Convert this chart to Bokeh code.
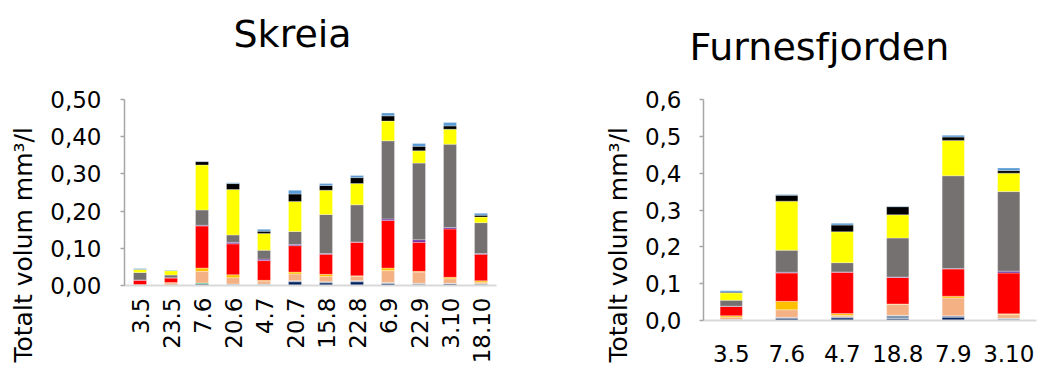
from math import pi
from bokeh.plotting import figure
from bokeh.layouts import row
from bokeh.models import (ColumnDataSource, FactorRange, Range1d, FixedTicker,
                          CustomJSTickFormatter, Title)
from bokeh.embed import file_html
from bokeh.resources import INLINE

FONT = "DejaVu Sans"

# stack order, bottom to top
series = ["s01", "s02", "s03", "s04", "s05", "s06", "s07", "s08", "s09", "s10", "s11"]
colors = ["#002060", "#8497b0", "#00b050", "#f4b183", "#ffc000", "#ff0000",
          "#7030a0", "#767171", "#ffff00", "#000000", "#5b9bd5"]

ylabel = "Totalt volum mm³/l"

# ---- Skreia ----
skreia_title = "Skreia"
skreia_dates = ["3.5", "23.5", "7.6", "20.6", "4.7", "20.7", "15.8", "22.8", "6.9", "22.9", "3.10", "18.10"]
skreia_s01 = [0.000, 0.000, 0.004, 0.001, 0.001, 0.010, 0.007, 0.010, 0.005, 0.001, 0.004, 0.001]
skreia_s02 = [0.001, 0.001, 0.001, 0.003, 0.003, 0.003, 0.003, 0.003, 0.003, 0.005, 0.002, 0.004]
skreia_s03 = [0.000, 0.000, 0.002, 0.000, 0.000, 0.000, 0.000, 0.000, 0.000, 0.000, 0.000, 0.000]
skreia_s04 = [0.001, 0.006, 0.031, 0.017, 0.008, 0.018, 0.014, 0.012, 0.032, 0.030, 0.012, 0.004]
skreia_s05 = [0.000, 0.001, 0.009, 0.008, 0.002, 0.005, 0.006, 0.001, 0.007, 0.002, 0.004, 0.004]
skreia_s06 = [0.012, 0.012, 0.113, 0.083, 0.053, 0.071, 0.054, 0.090, 0.128, 0.078, 0.130, 0.071]
skreia_s07 = [0.001, 0.001, 0.002, 0.004, 0.004, 0.003, 0.002, 0.001, 0.004, 0.007, 0.004, 0.002]
skreia_s08 = [0.020, 0.007, 0.041, 0.020, 0.024, 0.035, 0.105, 0.100, 0.210, 0.206, 0.224, 0.083]
skreia_s09 = [0.008, 0.012, 0.121, 0.122, 0.045, 0.081, 0.065, 0.057, 0.053, 0.033, 0.040, 0.015]
skreia_s10 = [0.001, 0.000, 0.009, 0.016, 0.006, 0.020, 0.013, 0.016, 0.014, 0.012, 0.009, 0.005]
skreia_s11 = [0.002, 0.002, 0.001, 0.002, 0.005, 0.010, 0.005, 0.006, 0.008, 0.008, 0.009, 0.005]
skreia_ticks = [0.0, 0.1, 0.2, 0.3, 0.4, 0.5]

# ---- Furnesfjorden ----
furnes_title = "Furnesfjorden"
furnes_dates = ["3.5", "7.6", "4.7", "18.8", "7.9", "3.10"]
furnes_s01 = [0.000, 0.006, 0.007, 0.005, 0.009, 0.001]
furnes_s02 = [0.003, 0.003, 0.003, 0.009, 0.004, 0.005]
furnes_s03 = [0.000, 0.000, 0.000, 0.000, 0.000, 0.000]
furnes_s04 = [0.006, 0.020, 0.004, 0.030, 0.048, 0.010]
furnes_s05 = [0.004, 0.023, 0.005, 0.001, 0.005, 0.002]
furnes_s06 = [0.025, 0.077, 0.112, 0.072, 0.074, 0.111]
furnes_s07 = [0.001, 0.002, 0.001, 0.001, 0.001, 0.005]
furnes_s08 = [0.016, 0.060, 0.025, 0.106, 0.252, 0.216]
furnes_s09 = [0.020, 0.133, 0.084, 0.063, 0.096, 0.050]
furnes_s10 = [0.002, 0.016, 0.018, 0.022, 0.009, 0.007]
furnes_s11 = [0.004, 0.002, 0.005, 0.001, 0.005, 0.007]
furnes_ticks = [0.0, 0.1, 0.2, 0.3, 0.4, 0.5, 0.6]


def make_chart(title, dates, cols, ticks, digits, *, width, height, mb_left, mb_right,
               mb_top, mb_bottom, bar_width, title_offset, title_gap, ytick_standoff,
               xlabel_vertical, xlabel_standoff, ylab_offset, ylab_standoff, ylab_valign):
    data = {"date": dates}
    for name, vals in zip(series, cols):
        data[name] = vals
    src = ColumnDataSource(data)
    p = figure(x_range=FactorRange(*dates, range_padding=0),
               y_range=Range1d(ticks[0], ticks[-1]),
               width=width, height=height, title=None,
               output_backend="svg", toolbar_location=None, frame_align=False,
               min_border_left=mb_left, min_border_right=mb_right,
               min_border_top=mb_top, min_border_bottom=mb_bottom)
    p.vbar_stack(series, x="date", width=bar_width, color=colors, source=src,
                 line_color="white", line_width=0.5, line_alpha=0.6)
    p.outline_line_color = None
    p.grid.visible = False
    p.background_fill_color = "white"
    p.border_fill_color = "white"

    # spacer between frame and title, then the title itself
    p.add_layout(Title(text=" ", text_font_size="1px", standoff=title_gap), "above")
    p.add_layout(Title(text=title, text_font=FONT, text_font_size="38px",
                       text_font_style="normal", text_color="black",
                       align="left", offset=title_offset, standoff=0), "above")

    # y axis title, placed along the left side
    p.add_layout(Title(text=ylabel, text_font=FONT, text_font_size="25px",
                       text_font_style="normal", text_color="black",
                       align="left", offset=ylab_offset, standoff=ylab_standoff,
                       vertical_align=ylab_valign), "left")

    ya = p.yaxis[0]
    ya.ticker = FixedTicker(ticks=ticks, minor_ticks=[])
    ya.formatter = CustomJSTickFormatter(
        code="return tick.toFixed(%d).replace('.', ',');" % digits)
    ya.axis_line_color = "#a6a6a6"
    ya.axis_line_width = 1.5
    ya.major_tick_line_color = "#a6a6a6"
    ya.major_tick_line_width = 1.5
    ya.major_tick_out = 4
    ya.major_tick_in = 0
    ya.minor_tick_out = 0
    ya.minor_tick_in = 0
    ya.major_label_text_font = FONT
    ya.major_label_text_font_size = "23px"
    ya.major_label_text_color = "black"
    ya.major_label_standoff = ytick_standoff

    xa = p.xaxis[0]
    xa.axis_line_color = "#d9d9d9"
    xa.axis_line_width = 2
    xa.major_tick_out = 0
    xa.major_tick_in = 0
    xa.minor_tick_out = 0
    xa.major_label_text_font = FONT
    xa.major_label_text_font_size = "23px"
    xa.major_label_text_color = "black"
    xa.major_label_standoff = xlabel_standoff
    if xlabel_vertical:
        xa.major_label_orientation = pi / 2
    else:
        xa.major_label_orientation = "horizontal"
    return p


left = make_chart(skreia_title, skreia_dates,
                  [skreia_s01, skreia_s02, skreia_s03, skreia_s04, skreia_s05, skreia_s06,
                   skreia_s07, skreia_s08, skreia_s09, skreia_s10, skreia_s11],
                  skreia_ticks, 2,
                  width=519, height=366, mb_left=124, mb_right=23, mb_top=99, mb_bottom=81,
                  bar_width=0.42, title_offset=109, title_gap=41, ytick_standoff=19,
                  xlabel_vertical=True, xlabel_standoff=12,
                  ylab_offset=-77, ylab_standoff=16, ylab_valign="top")

right = make_chart(furnes_title, furnes_dates,
                   [furnes_s01, furnes_s02, furnes_s03, furnes_s04, furnes_s05, furnes_s06,
                    furnes_s07, furnes_s08, furnes_s09, furnes_s10, furnes_s11],
                   furnes_ticks, 1,
                   width=520, height=366, mb_left=184, mb_right=3, mb_top=99, mb_bottom=46,
                   bar_width=0.4, title_offset=-14, title_gap=28, ytick_standoff=18,
                   xlabel_vertical=False, xlabel_standoff=24,
                   ylab_offset=-42, ylab_standoff=18, ylab_valign="bottom")

layout = row(left, right)
open("out.html", "w").write(file_html(layout, INLINE))
